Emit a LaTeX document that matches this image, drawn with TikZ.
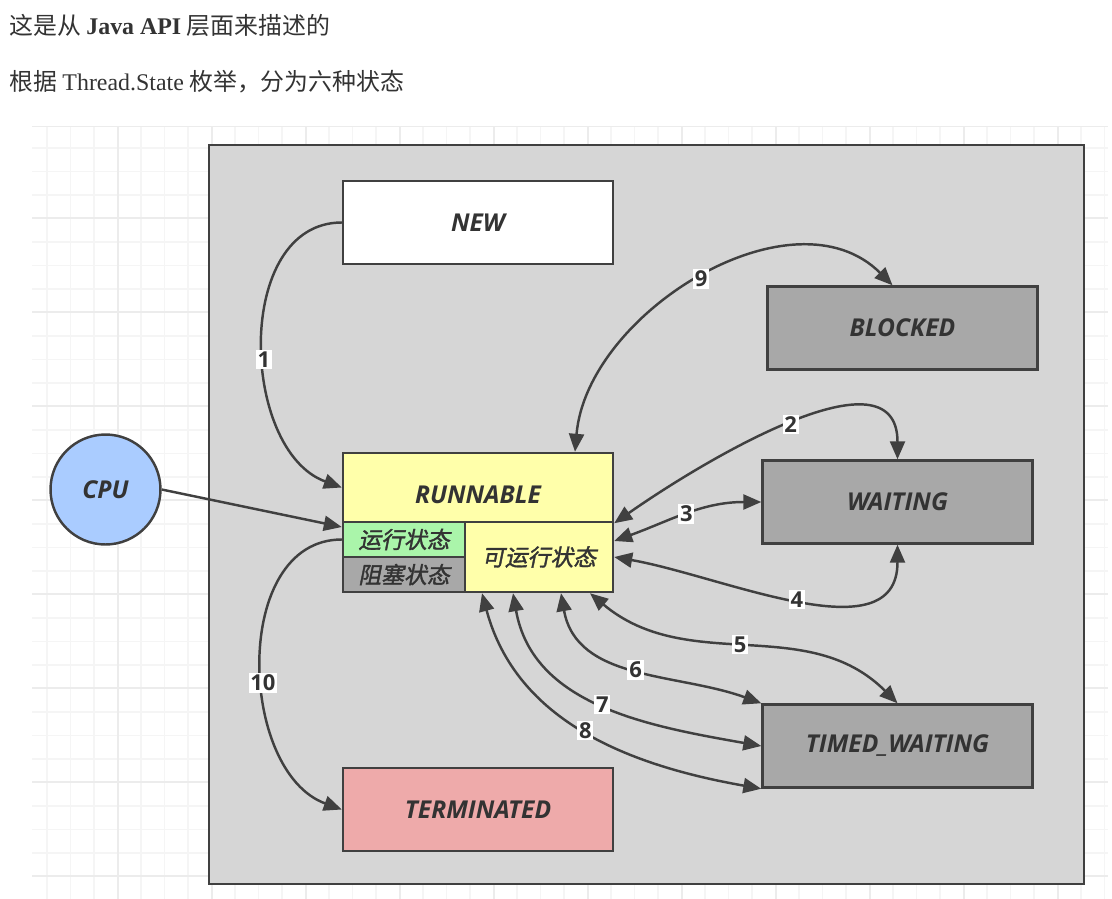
\documentclass[tikz,border=0pt]{standalone}
\usepackage{fontspec}
\usepackage{xcolor}
\usetikzlibrary{arrows.meta, math}
\setsansfont{Open Sans}
\newfontfamily\cjk{Noto Sans CJK SC}
\newfontfamily\cjkbi[FakeSlant=0.2,FakeBold=1.5]{Noto Sans CJK SC}
\newfontfamily\tnr{Liberation Serif}
\definecolor{ink}{HTML}{333333}
\definecolor{edge}{HTML}{404040}
\definecolor{panel}{HTML}{D6D6D6}
\definecolor{stategray}{HTML}{A8A8A8}
\definecolor{runyellow}{HTML}{FFFFAA}
\definecolor{rungreen}{HTML}{AAF5AA}
\definecolor{termred}{HTML}{EEAAAA}
\definecolor{cpublue}{HTML}{AACCFF}
\definecolor{gridminor}{HTML}{F5F5F5}
\definecolor{gridmajor}{HTML}{ECECEC}

\tikzset{
  state/.style={draw=edge, line width=1.4pt, minimum width=5.4cm, minimum height=1.66cm,
    font=\sffamily\bfseries\itshape\fontsize{14}{16}\selectfont, text=ink},
  substate/.style={draw=edge, line width=1.4pt, inner sep=0pt,
    font=\cjkbi\fontsize{13}{15}\selectfont, text=ink},
  tip/.tip={Triangle[length=0.36cm,width=0.3cm]},
  into/.style={draw=edge, line width=1.4pt, -tip},
  trans/.style={draw=edge, line width=1.4pt, tip-tip},
  num/.style={fill=white, inner sep=1pt, font=\sffamily\bfseries\fontsize{12.5}{14}\selectfont, text=ink}
}

\begin{document}
\begin{tikzpicture}[x=0.02cm, y=-0.02cm]
\useasboundingbox (0,0) rectangle (1112,899);

% heading
\node[anchor=west, inner sep=0, text=ink, font=\fontsize{13.6}{16}\selectfont] (title) at (9,25)
  {\cjk 这是从 {\tnr\bfseries Java API} 层面来描述的};
\node[anchor=west, inner sep=0, text=ink, font=\fontsize{13.6}{16}\selectfont] (subtitle) at (9,82)
  {\cjk 根据 {\tnr Thread.State} 枚举，分为六种状态};

% grid paper
\begin{scope}
\clip (32,126) rectangle (1108,899);
\foreach \i in {0,...,45}{
  \draw[gridminor, line width=0.6pt] (47+\i*23.5,126) -- ++(0,773);
}
\foreach \i in {0,...,32}{
  \draw[gridminor, line width=0.6pt] (32,148+\i*23.5) -- ++(1076,0);
}
\foreach \i in {0,...,11}{
  \draw[gridmajor, line width=0.6pt] (118+\i*94,126) -- ++(0,773);
}
\foreach \i in {0,...,8}{
  \draw[gridmajor, line width=0.6pt] (32,218+\i*94) -- ++(1076,0);
}
\draw[gridmajor, line width=0.8pt] (32,126) -- (1108,126);
\end{scope}

% thread box
\draw[edge, line width=1.6pt, fill=panel] (209,145) rectangle (1084,884);

% states
\node[state, fill=white] (new) at (478,222.5) {NEW};
\node[state, fill=stategray] (blocked) at (902.5,328) {BLOCKED};
\node[state, fill=stategray] (waiting) at (897.5,502) {WAITING};
\node[state, fill=stategray] (timed) at (897.5,746) {TIMED\_WAITING};
\node[state, fill=termred] (term) at (478,809.5) {TERMINATED};
\node[state, fill=runyellow, minimum height=1.38cm] (runnable) at (478,487.5) {\raisebox{-9pt}[0pt][0pt]{RUNNABLE}};
\node[substate, fill=rungreen, minimum width=2.44cm, minimum height=0.7cm] (running) at (404,539.5) {运行状态};
\node[substate, fill=stategray, minimum width=2.44cm, minimum height=0.7cm] (blocking) at (404,574.5) {阻塞状态};
\node[substate, fill=runyellow, minimum width=2.96cm, minimum height=1.4cm] (ready) at (539,557) {可运行状态};

\node[circle, draw=edge, line width=1.4pt, fill=cpublue, minimum size=2.2cm,
  font=\sffamily\bfseries\itshape\fontsize{14}{16}\selectfont, text=ink] (cpu) at (105.5,489.5) {CPU};

% transitions
\draw[into] (new.west) to[out=180, in=160, looseness=1.05] node[num, pos=0.55] {1} (runnable.west);
\draw[into] (cpu.east) -- ([yshift=0.25cm]running.west);
\draw[into] (running.west) to[out=180, in=160, looseness=1.05] node[num, pos=0.56] {10} (term.west);

\draw[trans] ([xshift=1.94cm]runnable.north) to[out=85, in=135] node[num] {9} ([xshift=-0.2cm]blocked.north);
\draw[trans] (runnable.south east) to[out=35, in=90] node[num] {2} (waiting.north);
\draw[trans] ([yshift=0.32cm]ready.east) to[out=20, in=180] node[num] {3} (waiting.west);
\draw[trans] (ready.east) to[out=-10, in=-90] node[num] {4} (waiting.south);

\draw[trans] ([xshift=1.02cm]ready.south) to[out=-40, in=135] node[num, pos=0.48] {5} (timed.north);
\draw[trans] ([xshift=0.44cm]ready.south) to[out=-80, in=160] node[num] {6} (timed.north west);
\draw[trans] ([xshift=-0.52cm]ready.south) to[out=-80, in=170] node[num] {7} (timed.west);
\draw[trans] ([xshift=-1.14cm]ready.south) to[out=-75, in=170] node[num] {8} (timed.south west);

\end{tikzpicture}
\end{document}
